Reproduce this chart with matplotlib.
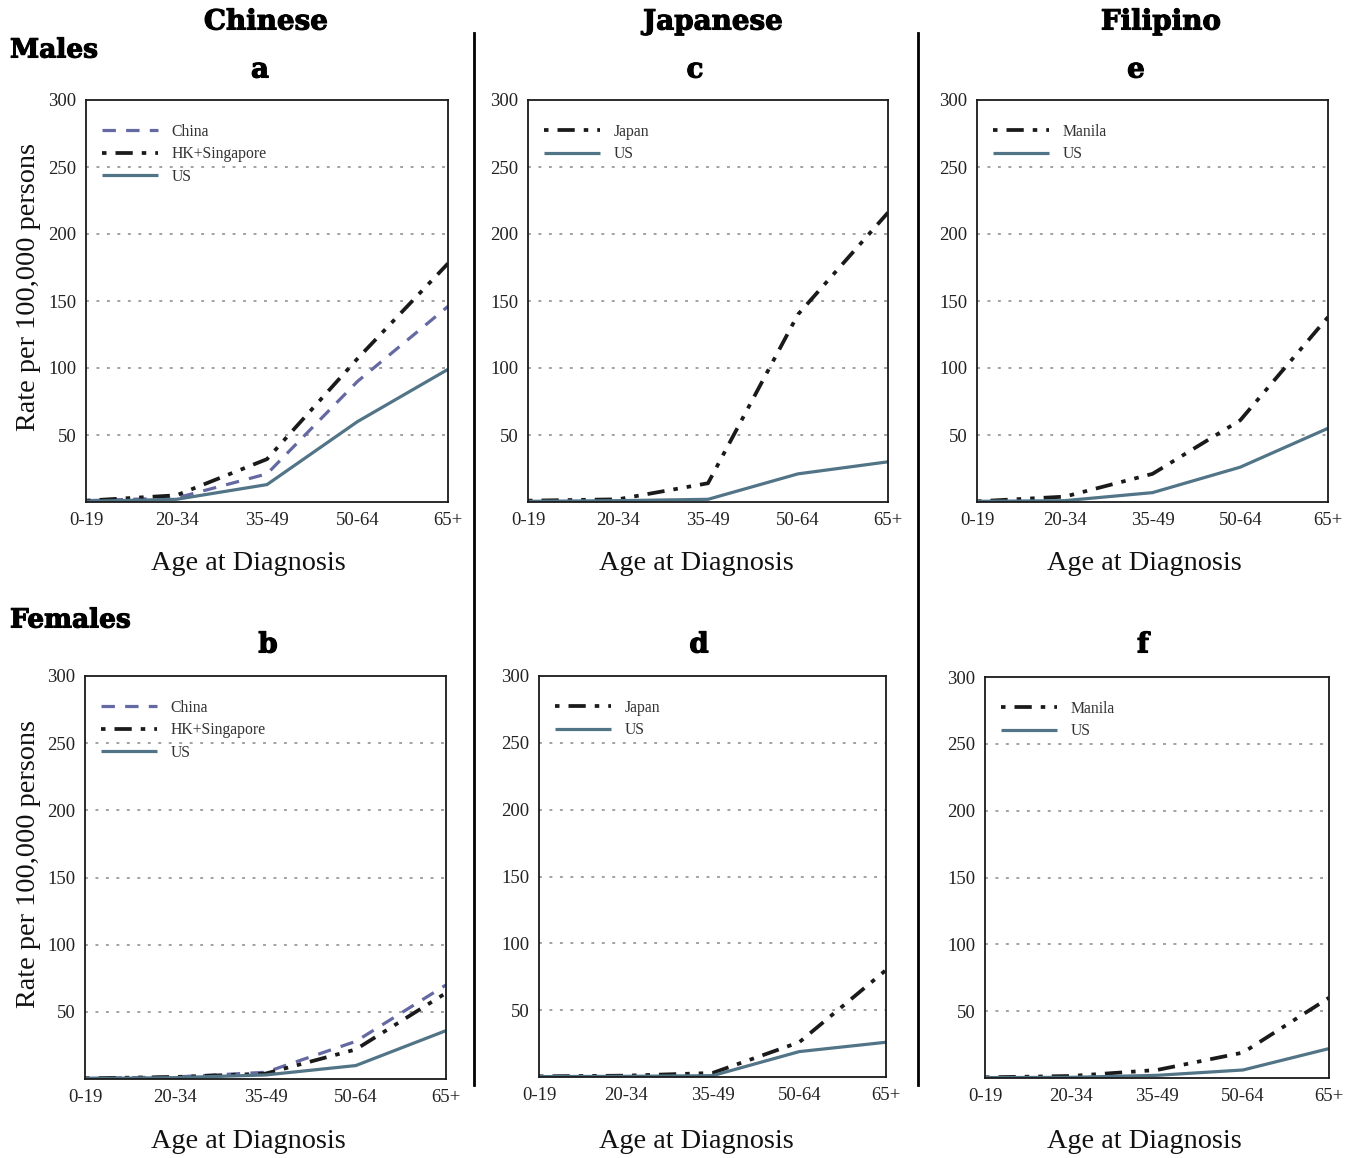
import matplotlib
matplotlib.use("Agg")
import matplotlib.pyplot as plt
from matplotlib.lines import Line2D
import matplotlib.patheffects as pe

# ---------------- data ----------------
age_groups = ["0-19", "20-34", "35-49", "50-64", "65+"]

# Males
chinese_china_m = [1, 3, 21, 90, 146]
chinese_hk_m = [1, 5, 32, 107, 178]
chinese_us_m = [0.5, 2, 13, 60, 99]
japanese_japan_m = [1, 2, 14, 140, 216]
japanese_us_m = [0.5, 1, 2, 21, 30]
filipino_manila_m = [0.5, 4, 21, 61, 138]
filipino_us_m = [0.5, 1, 7, 26, 55]

# Females
chinese_china_f = [0.5, 1.5, 5, 28, 70]
chinese_hk_f = [0.5, 1.5, 4, 22, 64]
chinese_us_f = [0.3, 1, 3, 10, 36]
japanese_japan_f = [0.5, 1, 3, 26, 80]
japanese_us_f = [0.3, 0.5, 1, 19, 26]
filipino_manila_f = [0.5, 1.5, 6, 19, 60]
filipino_us_f = [0.3, 0.5, 2, 6, 22]

yticks = [50, 100, 150, 200, 250, 300]
column_titles = ["Chinese", "Japanese", "Filipino"]
row_titles = ["Males", "Females"]
panel_letters = [["a", "c", "e"], ["b", "d", "f"]]

# ---------------- styles ----------------
W, H = 1354, 1158
US_COLOR = "#527487"
CHINA_COLOR = "#6569a2"
BLACK = "#1a1a1a"
serif = ["Liberation Serif", "DejaVu Serif"]
heavy = ["DejaVu Serif"]
thick = [pe.withStroke(linewidth=0.8, foreground="black")]

style_us = dict(color=US_COLOR, lw=2.3, linestyle="-", solid_capstyle="butt")
style_china = dict(color=CHINA_COLOR, lw=2.3, linestyle=(0, (4.2, 3.2)), dash_capstyle="butt")
style_black = dict(color=BLACK, lw=2.7, linestyle=(0, (1.2, 2.4, 4.6, 2.4, 1.2, 2.4)), dash_capstyle="butt")

fig = plt.figure(figsize=(W / 100, H / 100), dpi=100)
fig.patch.set_facecolor("white")

# axes pixel boxes: (left, top, right, bottom)
boxes = [
    [(86, 100, 448, 502), (528, 100, 888, 502), (977, 100, 1328, 502)],
    [(85, 676, 446, 1079), (539, 676, 886, 1077), (985, 677, 1329, 1078)],
]

series = [
    [
        [("China", chinese_china_m, style_china), ("HK+Singapore", chinese_hk_m, style_black), ("US", chinese_us_m, style_us)],
        [("Japan", japanese_japan_m, style_black), ("US", japanese_us_m, style_us)],
        [("Manila", filipino_manila_m, style_black), ("US", filipino_us_m, style_us)],
    ],
    [
        [("China", chinese_china_f, style_china), ("HK+Singapore", chinese_hk_f, style_black), ("US", chinese_us_f, style_us)],
        [("Japan", japanese_japan_f, style_black), ("US", japanese_us_f, style_us)],
        [("Manila", filipino_manila_f, style_black), ("US", filipino_us_f, style_us)],
    ],
]

xlabel_centers = [248, 696, 1144]
xlabel_y = [563, 1142]
letter_pos = [[(260, 70), (695, 70), (1136, 70)], [(268, 645), (699, 645), (1143, 645)]]

x = list(range(len(age_groups)))
for r in range(2):
    for c in range(3):
        l, t, rr, b = boxes[r][c]
        ax = fig.add_axes([l / W, 1 - b / H, (rr - l) / W, (b - t) / H])
        for lab, vals, st in series[r][c]:
            ax.plot(x, vals, label=lab, **st)
        ax.set_xlim(0, 4)
        ax.set_ylim(0, 300)
        ax.set_xticks(x)
        ax.set_xticklabels(age_groups, fontsize=13.5, family=serif, color="#222222")
        ax.set_yticks(yticks)
        ax.set_yticklabels([str(v) for v in yticks], fontsize=13.5, family=serif, color="#222222")
        ax.tick_params(length=0, pad=7)
        for yv in yticks[:-1]:
            ax.axhline(yv, color="#9a9a9a", lw=1.3, linestyle=(0, (1.6, 4.2)), zorder=0)
        for sp in ax.spines.values():
            sp.set_linewidth(1.3)
            sp.set_color("#1a1a1a")
        leg = ax.legend(loc="upper left", bbox_to_anchor=(0.0, 0.98), frameon=False,
                        prop={"family": serif, "size": 11.3}, handlelength=3.6,
                        handletextpad=0.85, labelspacing=0.42, borderaxespad=0.6)
        for txt in leg.get_texts():
            txt.set_color("#333333")
        fig.text(xlabel_centers[c] / W, 1 - xlabel_y[r] / H, "Age at Diagnosis",
                 ha="center", va="center", fontsize=20.3, family=serif, color="#111111")
        lx, ly = letter_pos[r][c]
        fig.text(lx / W, 1 - ly / H, panel_letters[r][c], ha="center", va="center",
                 fontsize=20, family=heavy, weight="bold", color="black", path_effects=thick)
        if c == 0:
            fig.text(29 / W, 1 - ((t + b) / 2 - 14) / H, "Rate per 100,000 persons",
                     rotation=90, ha="center", va="center", fontsize=20.3, family=serif,
                     color="#111111")

# column titles
for c, (title, cx) in enumerate(zip(column_titles, [266, 713, 1161])):
    fig.text(cx / W, 1 - 22 / H, title, ha="center", va="center", fontsize=20,
             family=heavy, weight="bold", color="black", path_effects=thick)

fig.text(10 / W, 1 - 50 / H, row_titles[0], ha="left", va="center", fontsize=19,
         family=heavy, weight="bold", color="black", path_effects=thick)
fig.text(10 / W, 1 - 620 / H, row_titles[1], ha="left", va="center", fontsize=19,
         family=heavy, weight="bold", color="black", path_effects=thick)

# vertical separators
for sx in [474, 918]:
    fig.add_artist(Line2D([sx / W, sx / W], [1 - 33 / H, 1 - 1085 / H],
                          transform=fig.transFigure, color="black", lw=2.0))

fig.savefig("out.png", dpi=100)
